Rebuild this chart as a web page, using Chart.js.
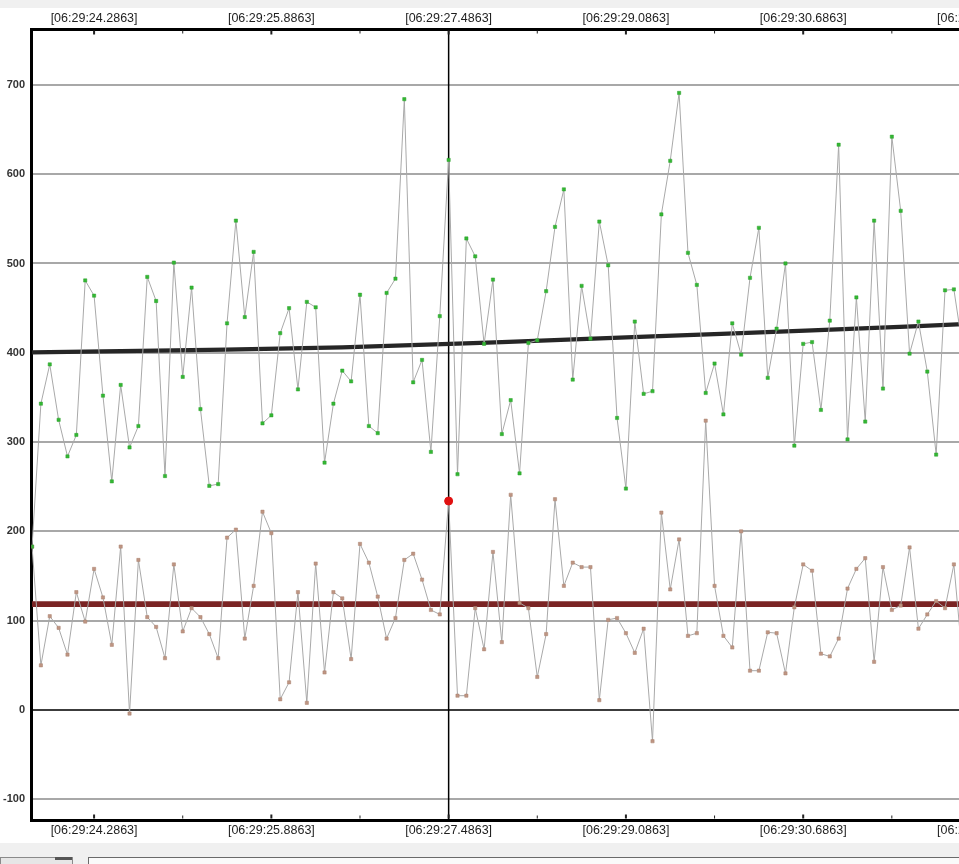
<!DOCTYPE html>
<html>
<head>
<meta charset="utf-8">
<script src="https://cdn.jsdelivr.net/npm/chart.js@4.4.1/dist/chart.umd.min.js"></script>
<style>
    html, body { margin: 0; padding: 0; background: #f0f0f0; }
    body { width: 959px; height: 864px; overflow: hidden; position: relative; }
    #topStrip { position: absolute; left: 0; top: 0; width: 959px; height: 8px; background: #f0f0f0; }
    #plotWrap { position: absolute; left: 0; top: 8px; width: 959px; height: 835px; overflow: hidden; background: #fff; }
    #comboBox { position: absolute; left: 0; top: 857px; width: 71px; height: 12px; border: 1px solid #8a8a8a; background: #e6e6e6; }
    #comboBtn { position: absolute; left: 55px; top: 857px; width: 17px; height: 3px; background: #555; }
    #inputBox { position: absolute; left: 88px; top: 857px; width: 880px; height: 12px; border: 1px solid #6a6a6a; background: #fafafa; }
</style>
</head>
<body>
<div id="topStrip"></div>
<div id="plotWrap"><canvas id="traceChart" width="1100" height="835"></canvas></div>
<div id="comboBox"></div>
<div id="comboBtn"></div>
<div id="inputBox"></div>
<script>
// sample values, one per 80 ms
const greenValues = [
    183, 343, 387, 325, 284, 308, 481, 464, 352, 256,
    364, 294, 318, 485, 458, 262, 501, 373, 473, 337,
    251, 253, 433, 548, 440, 513, 321, 330, 422, 450,
    359, 457, 451, 277, 343, 380, 368, 465, 318, 310,
    467, 483, 684, 367, 392, 289, 441, 616, 264, 528,
    508, 410, 482, 309, 347, 265, 411, 414, 469, 541,
    583, 370, 475, 416, 547, 498, 327, 248, 435, 354,
    357, 555, 615, 691, 512, 476, 355, 388, 331, 433,
    398, 484, 540, 372, 427, 500, 296, 410, 412, 336,
    436, 633, 303, 462, 323, 548, 360, 642, 559, 399,
    435, 379, 286, 470, 471, 405
];
const brownValues = [
    183, 50, 105, 92, 62, 132, 99, 158, 126, 73,
    183, -4, 168, 104, 93, 58, 163, 88, 114, 104,
    85, 58, 193, 202, 80, 139, 222, 198, 12, 31,
    132, 8, 164, 42, 132, 125, 57, 186, 165, 127,
    80, 103, 168, 175, 146, 112, 107, 234, 16, 16,
    114, 68, 177, 76, 241, 120, 114, 37, 85, 236,
    139, 165, 160, 160, 11, 101, 103, 86, 64, 91,
    -35, 221, 135, 191, 83, 86, 324, 139, 83, 70,
    200, 44, 44, 87, 86, 41, 115, 163, 156, 63,
    60, 80, 136, 158, 170, 54, 160, 112, 117, 182,
    91, 107, 122, 114, 163, 53
];
// slow trend of the upper trace and mean of the lower one
const trendIndex = [0, 18, 35, 53, 70, 88, 105];
const trendValues = [400.5, 403, 406, 412, 418.5, 425, 432];
const meanIndex = [0, 105];
const meanValues = [118.5, 118.5];

const cursorIndex = 47;
const tickIndex = [7, 17, 27, 37, 47, 57, 67, 77, 87, 97, 107, 117];
const majorTickIndex = [7, 27, 47, 67, 87, 107];
const tickLabels = ["[06:29:24.2863]", "[06:29:25.8863]", "[06:29:27.4863]",
                    "[06:29:29.0863]", "[06:29:30.6863]", "[06:29:32.2863]"];
const yTicks = [-100, 0, 100, 200, 300, 400, 500, 600, 700];

const X_MIN = -0.06, X_MAX = 119.92;
const Y_MIN = -123.2, Y_MAX = 762.6;

function toPoints(xs, ys) {
    return ys.map((y, i) => ({ x: xs ? xs[i] : i, y }));
}

function xLabel(v) {
    const k = majorTickIndex.indexOf(v);
    return k >= 0 ? tickLabels[k] : "";
}

const xFont = { family: "Liberation Sans", size: 12.5 };

function xAxis(position, h) {
    return {
        type: "linear",
        position,
        min: X_MIN,
        max: X_MAX,
        afterBuildTicks: s => { s.ticks = tickIndex.map(v => ({ value: v })); },
        afterFit: s => {
            s.height = h;
            s.paddingLeft = 0;
            s.paddingRight = 0;
        },
        grid: { display: false, drawTicks: false },
        border: { display: true, color: "#000", width: 3 },
        ticks: { autoSkip: false, maxRotation: 0, minRotation: 0, padding: 3,
                 color: "#1e1e1e", font: xFont, callback: xLabel }
    };
}

// cursor line + small inward tick marks
const cursorPlugin = {
    id: "cursor",
    beforeDatasetsDraw(chart) {
        const { ctx, chartArea } = chart;
        const x = chart.scales.x.getPixelForValue(cursorIndex);
        ctx.save();
        ctx.strokeStyle = "#000";
        ctx.lineWidth = 1.5;
        ctx.beginPath();
        ctx.moveTo(x, chartArea.top);
        ctx.lineTo(x, chartArea.bottom);
        ctx.stroke();
        ctx.restore();
    },
    afterDraw(chart) {
        const { ctx, chartArea } = chart;
        const sc = chart.scales.x;
        ctx.save();
        ctx.strokeStyle = "#222";
        for (const v of tickIndex) {
            const x = sc.getPixelForValue(v);
            const major = majorTickIndex.includes(v);
            const len = major ? 4 : 3;
            ctx.lineWidth = major ? 2 : 1;
            ctx.beginPath();
            ctx.moveTo(x, chartArea.top + 1.5);
            ctx.lineTo(x, chartArea.top + 1.5 + len);
            ctx.moveTo(x, chartArea.bottom - 1.5);
            ctx.lineTo(x, chartArea.bottom - 1.5 - len);
            ctx.stroke();
        }
        ctx.restore();
    }
};

const ctx = document.getElementById("traceChart").getContext("2d");
const traceChart = new Chart(ctx, {
    type: "line",
    data: {
        datasets: [
            {
                label: "selected",
                data: [{ x: cursorIndex, y: brownValues[cursorIndex] }],
                showLine: false,
                pointRadius: 4,
                pointBackgroundColor: "#e01010",
                pointBorderColor: "#e01010"
            },
            {
                label: "upper",
                data: toPoints(null, greenValues),
                borderColor: "#a9a9a9",
                borderWidth: 1,
                pointStyle: "rect",
                pointRadius: 2.3,
                pointBackgroundColor: "#33b833",
                pointBorderColor: "#2e9e2e",
                pointBorderWidth: 0.5
            },
            {
                label: "lower",
                data: toPoints(null, brownValues),
                borderColor: "#a9a9a9",
                borderWidth: 1,
                pointStyle: "rect",
                pointRadius: 2.3,
                pointBackgroundColor: "#bf9583",
                pointBorderColor: "#a8806e",
                pointBorderWidth: 0.5
            },
            {
                label: "trend",
                data: toPoints(trendIndex, trendValues),
                borderColor: "#262626",
                borderWidth: 4.3,
                pointRadius: 0,
                cubicInterpolationMode: "monotone"
            },
            {
                label: "mean",
                data: toPoints(meanIndex, meanValues),
                borderColor: "#7a2424",
                borderWidth: 5.6,
                pointRadius: 0
            }
        ]
    },
    options: {
        responsive: false,
        devicePixelRatio: 1,
        animation: false,
        layout: { padding: 0 },
        plugins: {
            legend: { display: false },
            tooltip: { enabled: false }
        },
        scales: {
            x: xAxis("bottom", 23),
            x2: xAxis("top", 21),
            y: {
                type: "linear",
                min: Y_MIN,
                max: Y_MAX,
                afterBuildTicks: s => { s.ticks = yTicks.map(v => ({ value: v })); },
                afterFit: s => { s.width = 31.5; },
                grid: {
                    drawTicks: false,
                    lineWidth: 2,
                    color: c => (c.tick && c.tick.value === 0) ? "#3c3c3c" : "#a8a8a8"
                },
                border: { display: true, color: "#000", width: 3 },
                ticks: {
                    padding: 6.5,
                    color: "#333",
                    font: { family: "Liberation Sans", size: 11, weight: "bold" },
                    callback: v => String(v)
                }
            }
        }
    },
    plugins: [cursorPlugin]
});
</script>
</body>
</html>
